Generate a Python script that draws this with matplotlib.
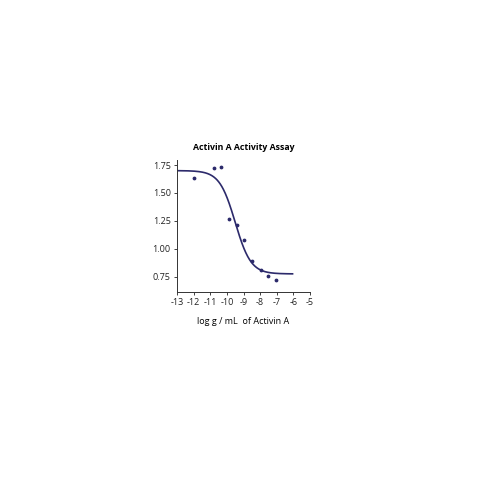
import numpy as np
import matplotlib
matplotlib.use("Agg")
import matplotlib.pyplot as plt

plt.rcParams['font.family'] = ['Open Sans', 'DejaVu Sans']

# measured points
log_conc = [-12.0, -10.8, -10.35, -9.87, -9.4, -8.94, -8.46, -7.96, -7.5, -7.04]
activity = [1.636, 1.726, 1.728, 1.267, 1.213, 1.076, 0.888, 0.81, 0.759, 0.718]

# 4PL fit parameters
fit_top = 1.70
fit_bottom = 0.775
fit_log_ec50 = -9.5
fit_hill = 0.92
fit_range = (-13.0, -6.05)

x_ticks = [-13, -12, -11, -10, -9, -8, -7, -6, -5]
y_ticks = [0.75, 1.00, 1.25, 1.50, 1.75]

navy = '#2c2a6b'

fig = plt.figure(figsize=(5, 5), dpi=100)
ax = fig.add_axes([0.354, 0.416, 0.266, 0.264])

xf = np.linspace(fit_range[0], fit_range[1], 300)
yf = fit_bottom + (fit_top - fit_bottom) / (1 + 10 ** ((xf - fit_log_ec50) * fit_hill))
ax.plot(xf, yf, color=navy, lw=1.2)
ax.scatter(log_conc, activity, s=3, color=navy, zorder=3)

ax.set_xlim(-13, -5)
ax.set_ylim(0.613, 1.795)
ax.set_xticks(x_ticks)
ax.set_xticklabels([str(t) for t in x_ticks])
ax.set_yticks(y_ticks)
ax.set_yticklabels([f'{t:.2f}' for t in y_ticks])
ax.tick_params(labelsize=6.5, length=2.5, width=0.6, pad=2, colors='#222222')
for s in ['top', 'right']:
    ax.spines[s].set_visible(False)
for s in ['left', 'bottom']:
    ax.spines[s].set_linewidth(0.7)
    ax.spines[s].set_color('#333333')

ax.set_title('Activin A Activity Assay', fontsize=6.3, fontweight='bold', pad=7)
ax.set_xlabel('log g / mL  of Activin A', fontsize=6.5, labelpad=7)

fig.savefig('out.png', dpi=100, facecolor='white')
